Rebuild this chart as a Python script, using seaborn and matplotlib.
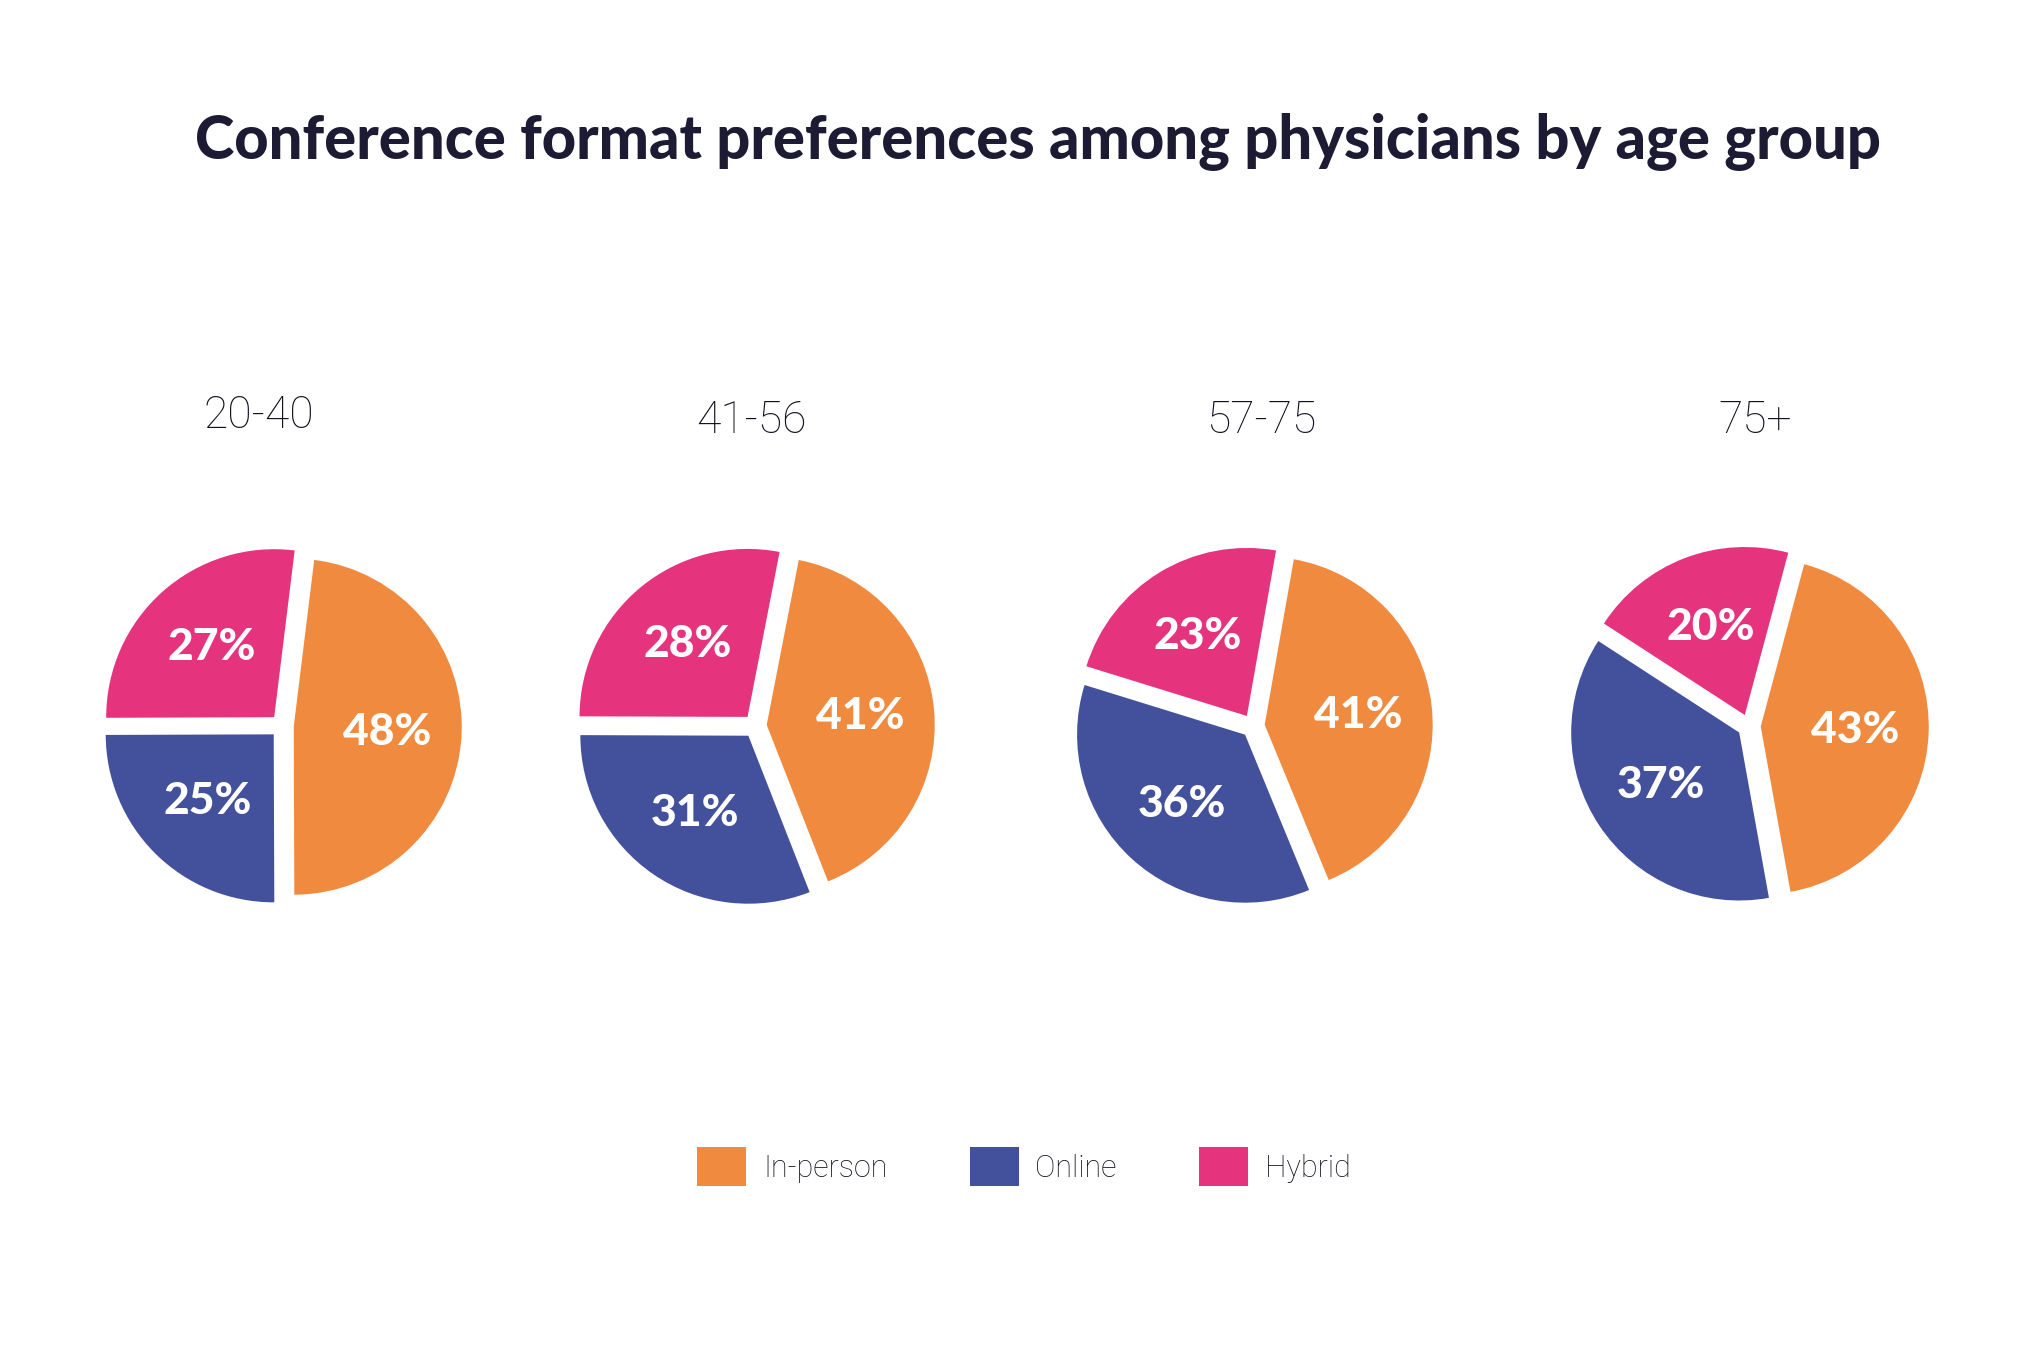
"""Conference format preferences - pie charts"""

import matplotlib
matplotlib.use("Agg")
import matplotlib.pyplot as plt
from matplotlib.patches import Patch
import seaborn as sns

sns.set_theme(style="white")
plt.rcParams['font.family'] = ['Lato', 'DejaVu Sans']

# data
formats = ["In-person", "Online", "Hybrid"]
age_groups = ["20-40", "41-56", "57-75", "75+"]
in_person = [48, 41, 41, 43]
online = [25, 31, 36, 37]
hybrid = [27, 28, 23, 20]

colors = ["#F08A3F", "#43509C", "#E6337D"]
dark = "#1C1B33"
thin_font = ['Roboto', 'DejaVu Sans']

fig = plt.figure(figsize=(20.4, 13.55), dpi=100)
fig.patch.set_facecolor("white")

fig.text(0.509, 0.895, "Conference format preferences among physicians by age group",
         ha="center", va="center", fontsize=43, fontweight="black", color=dark)

# layout of each pie (pixel centers in the 2040x1355 canvas)
centers_x = [282, 755, 1253, 1749]
center_y = 726
label_x = [259, 751, 1261, 1755]
label_y = [416, 421, 421, 421]
start_angles = [83, 79, 80, 75]
radius_px = 168
lim = 1.2
w = 2 * lim * radius_px / 2040
h = 2 * lim * radius_px / 1355

for i, grp in enumerate(age_groups):
    vals = [in_person[i], online[i], hybrid[i]]
    cx = centers_x[i] / 2040
    cy = 1 - center_y / 1355
    ax = fig.add_axes([cx - w / 2, cy - h / 2, w, h])
    wedges, texts, autotexts = ax.pie(
        vals, colors=colors, startangle=start_angles[i], counterclock=False,
        explode=[0.07, 0.07, 0.07], autopct=lambda p: f"{round(p):d}%",
        pctdistance=0.56, wedgeprops={"linewidth": 0},
        textprops={"color": "white", "fontsize": 32, "fontweight": "black"})
    ax.set_xlim(-lim, lim)
    ax.set_ylim(-lim, lim)
    ax.set_aspect("equal")
    ax.axis("off")
    fig.text(label_x[i] / 2040, 1 - label_y[i] / 1355, grp, ha="center", va="center",
             fontsize=32, fontweight="light", color="#111122", family=thin_font)

# legend
handles = [Patch(facecolor=c, edgecolor="none", label=f) for c, f in zip(colors, formats)]
leg = fig.legend(handles=handles, loc="center", bbox_to_anchor=(0.502, 0.139), ncol=3,
                 frameon=False, handlelength=1.6, handleheight=1.6,
                 handletextpad=0.55, columnspacing=2.7,
                 prop={"family": thin_font, "weight": "light", "size": 22})
for t in leg.get_texts():
    t.set_color("#111122")

plt.savefig("out.png", dpi=100, facecolor="white")
